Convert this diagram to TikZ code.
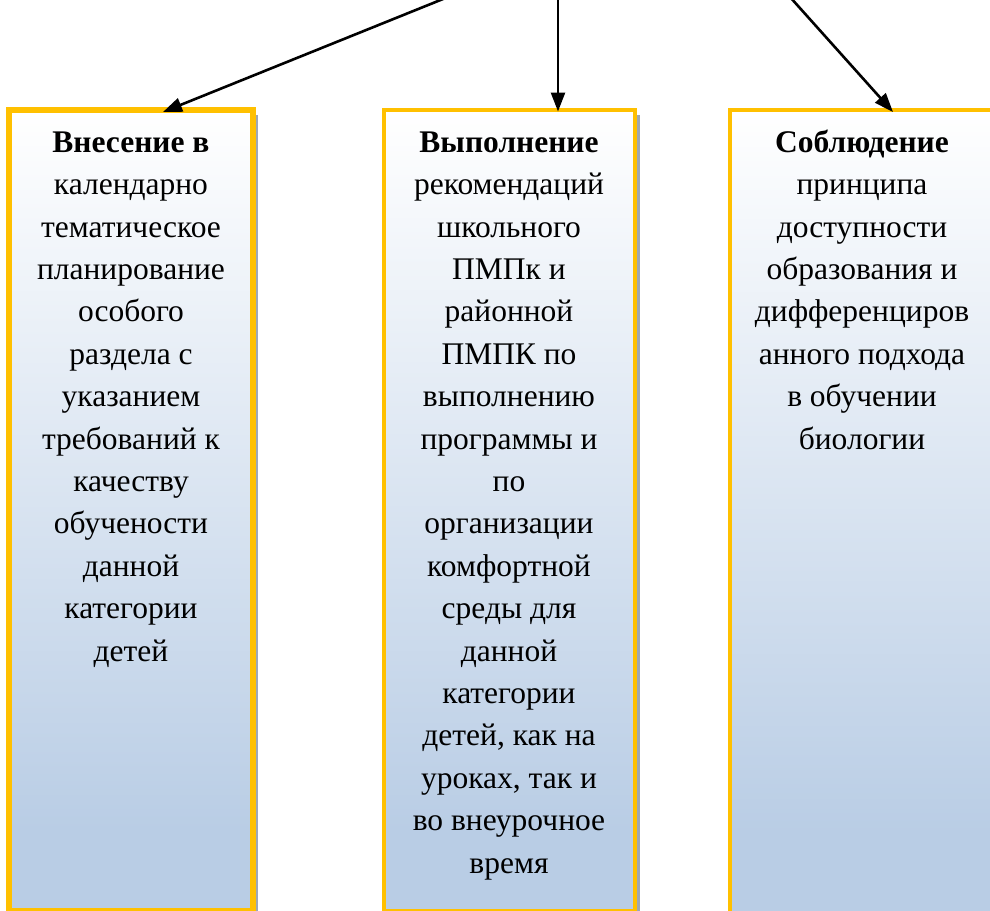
\documentclass[tikz,border=0pt]{standalone}
\usepackage{fontspec}
\setmainfont{Liberation Serif}
\usetikzlibrary{arrows.meta,shadows,calc}
\definecolor{boxgold}{HTML}{FFC000}
\definecolor{boxblue}{HTML}{B9CDE5}
\definecolor{shadowgray}{HTML}{9DA7B4}
\pgfdeclareverticalshading{boxgrad}{100bp}{color(0bp)=(boxblue); color(30bp)=(boxblue); color(75bp)=(white); color(100bp)=(white)}
\tikzset{
  colbox/.style={draw=boxgold, shading=boxgrad, inner sep=0pt, outer sep=0pt,
    general shadow={fill=shadowgray, shadow xshift=5pt, shadow yshift=-5pt}},
  coltext/.style={anchor=north, align=center, inner sep=0pt,
    font={\fontsize{31.5pt}{42.4pt}\selectfont}},
  conn/.style={line width=2.6pt, -{Triangle[length=19pt,width=14pt]}}
}
\begin{document}
\begin{tikzpicture}[x=1pt,y=-1pt]
\useasboundingbox (0,0) rectangle (990,910);
\clip (0,0) rectangle (990,910);
% boxes
\node[colbox, line width=6pt, minimum width=244pt, minimum height=800.5pt] (b1) at (131,510.25) {};
\node[colbox, line width=4pt, minimum width=251.5pt, minimum height=801pt] (b2) at (509.25,510) {};
\node[colbox, line width=3.5pt, minimum width=264pt, minimum height=805pt] (b3) at (862,512.5) {};
% texts
\node[coltext] (t1) at (131,122) {\rule{0pt}{30pt}\textbf{Внесение в}\\календарно\\тематическое\\планирование\\особого\\раздела с\\указанием\\требований к\\качеству\\обучености\\данной\\категории\\детей};
\node[coltext] (t2) at (509,122) {\rule{0pt}{30pt}\textbf{Выполнение}\\рекомендаций\\школьного\\ПМПк и\\районной\\ПМПК по\\выполнению\\программы и\\по\\организации\\комфортной\\среды для\\данной\\категории\\детей, как на\\уроках, так и\\во внеурочное\\время};
\node[coltext] (t3) at (862,122) {\rule{0pt}{30pt}\textbf{Соблюдение}\\принципа\\доступности\\образования и\\дифференциров\\анного подхода\\в обучении\\биологии};
% connectors from above the picture
\coordinate (s1) at (448,-3);
\coordinate (s2) at (558,-3);
\coordinate (s3) at (790,-3);
\draw[conn] (s1) -- ($(b1.north)+(32,2)$);
\draw[conn] (s2) -- ($(b2.north)+(48.75,2)$);
\draw[conn] (s3) -- ($(b3.north)+(31,2)$);
\end{tikzpicture}
\end{document}
